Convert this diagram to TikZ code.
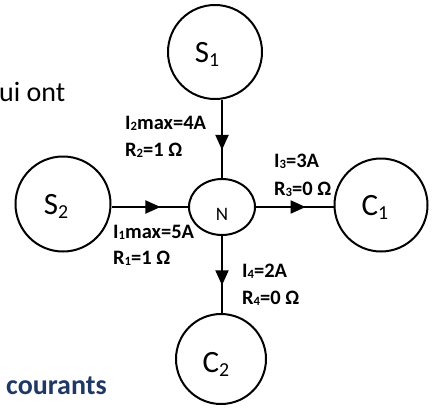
\documentclass[tikz,border=0pt]{standalone}
\usepackage{fontspec}
\setmainfont{Carlito}
\usetikzlibrary{shapes.geometric,arrows.meta,decorations.markings}
\definecolor{navy}{HTML}{1F3864}
\newcommand\lowsub[1]{\raisebox{-0.05em}{\scalebox{0.62}{#1}}}
\newcommand\cirsub[1]{\raisebox{-0.14em}{\scalebox{0.64}{#1}}}
\begin{document}
\begin{tikzpicture}[x=1pt,y=-1pt,
  hub/.style={circle,draw,line width=2pt,inner sep=0pt},
  junction/.style={ellipse,draw,line width=2pt,minimum width=66pt,minimum height=56pt,inner sep=0pt},
  big/.style={font=\fontsize{31}{31}\selectfont,text depth=0pt,inner sep=0pt},
  lbl/.style={anchor=base west,inner sep=0pt,font=\fontsize{20.5}{20.5}\selectfont\bfseries},
  flow/.style={line width=2pt,postaction={decorate},
    decoration={markings,mark=at position 0.64 with {\arrow{Triangle[length=15pt,width=13pt]}}}}]
\useasboundingbox (0,0) rectangle (435,407);

\node[hub,minimum size=94pt,label={[big,xshift=-8pt]center:S\cirsub{1}}] (S1) at (215,52) {};
\node[hub,minimum size=95pt,label={[big,xshift=-7pt]center:S\cirsub{2}}] (S2) at (63,204) {};
\node[hub,minimum size=93pt,label={[big,xshift=-6pt]center:C\cirsub{1}}] (C1) at (381,205) {};
\node[hub,minimum size=90pt,label={[big,xshift=-5pt,yshift=-3pt]center:C\cirsub{2}}] (C2) at (221,359) {};
\node[junction,label={[font=\fontsize{19}{19}\selectfont,inner sep=0pt,yshift=-7pt]center:N}] (N) at (222,207) {};

\draw[flow] (N.north |- S1.south) -- (N.north);
\draw[flow] (N.west -| S2.east) -- (N.west);
\draw[flow] (N.east) -- (N.east -| C1.west);
\draw[flow] (N.south) -- (N.south |- C2.north);

\node[lbl] (l2a) at (125,129) {I\lowsub{2}max=4A};
\node[lbl] (l2b) at (125,156) {R\lowsub{2}=1 Ω};
\node[lbl] (l1a) at (113,238) {I\lowsub{1}max=5A};
\node[lbl] (l1b) at (113,264) {R\lowsub{1}=1 Ω};
\node[lbl] (l3a) at (274,167) {I\lowsub{3}=3A};
\node[lbl] (l3b) at (274,195) {R\lowsub{3}=0 Ω};
\node[lbl] (l4a) at (242,277) {I\lowsub{4}=2A};
\node[lbl] (l4b) at (242,304) {R\lowsub{4}=0 Ω};

\node[anchor=base west,inner sep=0pt,font=\fontsize{28}{28}\selectfont] (t1) at (-1,101) {ui ont};
\node[anchor=base west,inner sep=0pt,font=\fontsize{28}{28}\selectfont\bfseries,text=navy] (t2) at (6,394) {courants};
\end{tikzpicture}
\end{document}
